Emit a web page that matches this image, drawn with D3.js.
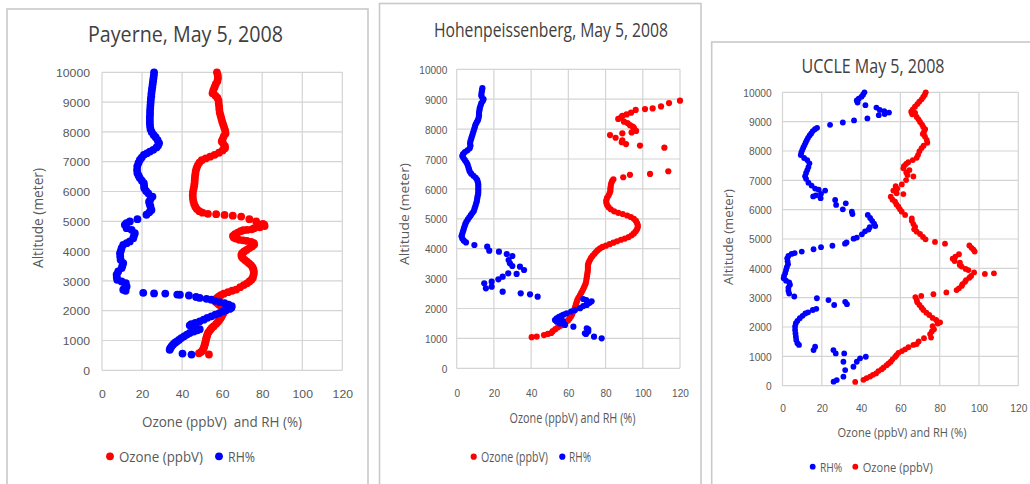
<!DOCTYPE html>
<html>
<head>
<meta charset="utf-8">
<script src="https://cdn.jsdelivr.net/npm/d3@7"></script>
<style>
  html, body { margin: 0; padding: 0; background: #fff; }
  svg { display: block; font-family: 'Open Sans', 'DejaVu Sans', sans-serif; }
  text { white-space: pre; }
</style>
</head>
<body>
<svg id="chart" width="1030" height="484"></svg>
<script>
// ---------- axis ticks ----------
const altitudeTicks = [0, 1000, 2000, 3000, 4000, 5000, 6000, 7000, 8000, 9000, 10000];
const valueTicks = [0, 20, 40, 60, 80, 100, 120];

// ---------- soundings: [value, altitude (m)] ----------
// Payerne, ozone (ppbV)
const payerneOzone = [
  [57.4,10000],[57.8,9900],[57.9,9800],[57.6,9700],[56.8,9600],[56.2,9500],[55.6,9400],[55.2,9300],[56.6,9220],[57.6,9150],
  [58.2,9050],[58.3,8950],[58.5,8850],[58.6,8750],[58.8,8650],[59.2,8550],[59.6,8450],[60.0,8350],[60.5,8250],[61.0,8150],
  [61.5,8050],[61.7,7950],[60.8,7850],[60.2,7750],[59.8,7680],[60.6,7600],[61.4,7520],[61.4,7450],[60.2,7380],[58.4,7300],
  [56.2,7230],[54.0,7170],[51.8,7110],[49.8,7050],[48.6,6970],[47.8,6880],[47.2,6780],[46.8,6680],[46.6,6580],[46.4,6480],
  [46.3,6380],[46.2,6280],[46.0,6180],[45.7,6080],[45.4,5980],[45.3,5880],[45.4,5780],[45.6,5680],[46.0,5580],[46.6,5490],
  [47.4,5410],[48.6,5340],[50.2,5290],[52.9,5250],[57.0,5240],[61.2,5215],[65.3,5190],[69.5,5160],[73.6,5070],[77.0,4995],
  [80.3,4915],[81.0,4890],[81.2,4840],[78.8,4800],[76.0,4770],[74.8,4730],[72.4,4710],[70.5,4700],[69.2,4670],[67.8,4620],
  [66.4,4570],[65.4,4510],[65.8,4460],[66.8,4420],[68.6,4380],[70.5,4360],[72.4,4340],[74.5,4310],[75.8,4270],[76.0,4220],
  [75.0,4160],[73.6,4100],[72.2,4040],[71.0,3990],[70.0,3930],[69.6,3870],[69.8,3810],[70.4,3760],[71.4,3700],[72.4,3650],
  [73.4,3590],[74.4,3530],[75.2,3460],[75.6,3390],[75.8,3320],[75.8,3250],[75.6,3180],[75.3,3100],[74.6,3040],[73.6,2980],
  [72.4,2920],[70.8,2860],[69.0,2790],[67.0,2710],[65.0,2670],[62.9,2620],[60.8,2570],[59.3,2520],[58.2,2470],[57.3,2420],
  [56.8,2360],[56.8,2300],[57.6,2250],[58.5,2200],[59.5,2150],[60.3,2090],[60.6,2030],[60.7,1970],[60.6,1920],[60.2,1860],
  [59.6,1800],[59.2,1750],[58.6,1690],[57.9,1630],[57.0,1560],[55.8,1480],[54.8,1420],[54.1,1360],[53.4,1300],[52.9,1250],
  [52.6,1190],[52.3,1130],[52.1,1080],[51.9,1020],[51.7,960],[51.5,900],[51.2,840],[51.0,780],[50.6,720],[50.1,660],
  [49.4,610],[48.4,570],[53.4,530]
];
// Payerne, relative humidity (%)
const payerneRH = [
  [26.0,10000],[25.9,9900],[25.7,9800],[25.5,9700],[25.3,9600],[25.1,9500],[24.9,9400],[24.7,9300],[24.6,9200],[24.4,9100],
  [24.3,9000],[24.2,8900],[24.1,8800],[24.0,8700],[24.0,8600],[23.9,8500],[23.9,8400],[23.9,8300],[24.0,8200],[24.2,8100],
  [24.8,8000],[25.8,7900],[26.8,7820],[27.8,7720],[28.5,7620],[28.0,7540],[27.2,7480],[25.6,7400],[23.9,7340],[22.4,7280],
  [20.9,7230],[19.8,7140],[18.9,7060],[18.2,6960],[17.6,6840],[17.5,6720],[17.7,6610],[18.3,6530],[18.9,6450],[19.9,6360],
  [20.9,6280],[21.0,6190],[21.1,6110],[22.0,6020],[23.1,5940],[25.2,5830],[24.2,5740],[23.5,5660],[23.8,5580],[24.2,5500],
  [24.7,5380],[23.6,5300],[22.2,5220],[17.7,5070],[13.9,4993],[12.2,4940],[11.4,4881],[12.3,4770],[14.8,4714],[16.4,4602],
  [16.0,4520],[15.6,4435],[13.9,4323],[12.3,4267],[10.6,4211],[9.8,4100],[9.4,4010],[9.0,3932],[9.1,3820],[9.3,3709],
  [10.6,3597],[10.2,3510],[9.8,3429],[8.1,3318],[7.3,3206],[7.4,3120],[7.6,3038],[9.8,2982],[11.9,2927],[12.3,2815],
  [11.2,2760],[10.6,2703],[11.8,2670],[20.6,2600],[26.0,2580],[31.6,2575],[37.6,2540],[38.9,2535],[43.4,2510],[47.0,2460],
  [48.8,2430],[52.2,2400],[54.6,2370],[56.3,2330],[58.8,2290],[61.2,2250],[63.2,2200],[64.8,2150],[64.6,2100],[63.7,2060],
  [61.8,2010],[60.4,1977],[58.6,1920],[56.6,1870],[54.6,1810],[52.6,1760],[50.8,1700],[48.8,1642],[46.6,1590],[44.6,1550],
  [43.8,1510],[45.2,1470],[46.8,1430],[48.8,1380],[47.6,1340],[45.8,1300],[43.8,1251],[42.4,1200],[41.0,1140],[39.6,1083],
  [38.4,1020],[37.2,960],[36.3,916],[35.4,860],[34.7,800],[34.1,740],[33.8,690],[40.2,560],[44.7,527]
];

// Hohenpeissenberg, ozone (ppbV)
const hohenOzone = [
  [120.0,8950],[114.1,8870],[109.8,8760],[105.3,8690],[101.2,8670],[96.2,8640],[93.7,8550],[91.3,8490],[89.0,8440],[86.8,8340],
  [88.4,8390],[89.9,8250],[91.8,8200],[93.1,8130],[94.6,8080],[95.3,8030],[96.4,7940],[94.0,7890],[89.0,7860],[82.4,7800],
  [85.4,7710],[89.0,7620],[88.7,7560],[91.0,7500],[98.5,7450],[111.6,7380],[113.7,6590],[103.9,6500],[93.1,6470],[89.5,6390],
  [84.2,6320],[83.5,6260],[83.0,6180],[82.8,6100],[82.6,6020],[82.6,5940],[82.2,5860],[81.6,5780],[80.8,5700],[80.4,5620],
  [80.4,5540],[80.8,5460],[81.6,5390],[82.8,5320],[84.6,5250],[86.8,5200],[89.2,5160],[91.6,5110],[93.6,5060],[95.2,5000],
  [96.3,4930],[96.9,4860],[97.3,4790],[97.3,4720],[96.9,4650],[96.2,4580],[95.2,4510],[94.0,4450],[92.4,4390],[90.4,4340],
  [88.3,4300],[86.2,4250],[84.2,4200],[82.2,4150],[80.2,4100],[78.4,4060],[77.0,4010],[75.8,3950],[74.8,3890],[74.0,3830],
  [73.0,3760],[72.2,3690],[71.6,3620],[71.0,3550],[70.6,3480],[70.5,3400],[70.5,3320],[70.4,3240],[70.2,3160],[70.0,3080],
  [69.8,3000],[69.6,2920],[69.3,2840],[68.8,2760],[68.2,2680],[67.6,2600],[66.9,2520],[66.2,2440],[65.4,2360],[64.8,2280],
  [64.4,2200],[64.0,2120],[63.6,2040],[63.2,1960],[62.6,1880],[62.0,1800],[61.4,1730],[60.6,1660],[59.8,1600],[58.6,1540],
  [57.3,1480],[55.8,1420],[54.4,1370],[53.0,1310],[51.6,1240],[50.8,1180],[49.0,1150],[46.9,1110],[43.0,1060],[40.3,1040]
];
// Hohenpeissenberg, relative humidity (%)
const hohenRH = [
  [13.8,9370],[13.6,9300],[13.4,9220],[13.2,9140],[13.4,9090],[14.4,9000],[14.0,8940],[13.2,8860],[12.8,8780],[12.4,8700],
  [12.2,8620],[12.0,8540],[12.0,8460],[11.8,8380],[11.4,8300],[10.8,8230],[10.2,8160],[9.8,8080],[9.4,8000],[9.0,7920],
  [8.6,7840],[8.2,7760],[7.8,7680],[7.4,7600],[7.2,7520],[7.4,7440],[7.0,7360],[5.8,7290],[4.4,7230],[3.4,7160],
  [3.0,7100],[3.6,7030],[4.4,6960],[5.2,6890],[5.8,6820],[6.2,6740],[6.6,6660],[7.0,6580],[7.8,6510],[9.0,6440],
  [10.2,6370],[11.0,6300],[11.4,6220],[11.6,6140],[11.6,6060],[11.6,5980],[11.6,5900],[11.5,5820],[11.2,5740],[11.0,5660],
  [10.8,5580],[10.4,5500],[10.0,5420],[9.6,5340],[9.2,5260],[8.4,5190],[7.6,5120],[6.8,5050],[6.0,4980],[5.2,4900],
  [4.6,4820],[4.2,4740],[3.8,4660],[3.4,4580],[3.0,4500],[2.6,4420],[3.0,4340],[3.8,4270],[5.0,4210],[9.5,4124],
  [16.4,4068],[17.5,3933],[22.7,3900],[26.9,3823],[29.9,3756],[27.9,3622],[28.6,3512],[29.9,3422],[34.0,3400],[36.2,3288],
  [32.2,3155],[27.7,3177],[24.7,3066],[22.4,2977],[18.8,2896],[14.8,2843],[15.7,2676],[18.8,2730],[24.7,2562],[34.4,2508],
  [39.4,2475],[43.5,2395],
  [68.0,2318],[69.6,2280],[72.5,2240],[71.4,2190],[69.9,2120],[68.0,2080],[66.3,2010],[63.6,1950],[61.5,1900],[59.1,1840],
  [57.5,1800],[56.4,1760],[55.0,1720],[53.7,1670],[52.8,1615],[53.8,1560],[55.5,1500],[56.4,1620],[57.2,1560],[58.2,1450],
  [62.7,1391],[69.9,1340],[70.7,1300],[70.7,1230],[68.9,1170],[69.5,1150],[73.8,1057],[77.9,1003]
];

// Uccle, relative humidity (%)
const uccleRH = [
  [41.7,10000],[41.0,9920],[40.2,9850],[38.8,9780],[37.8,9720],[38.2,9650],[42.2,9560],[47.8,9480],[49.5,9400],[51.8,9360],
  [54.2,9310],[49.0,9220],[52.0,9260],[43.2,9110],[36.4,9040],[30.7,8970],[24.2,8890],[17.6,8790],[16.5,8740],[15.4,8680],
  [14.6,8600],[13.8,8530],[13.0,8450],[12.4,8370],[11.8,8290],[11.2,8200],[10.6,8120],[10.1,8040],[9.6,7950],[9.3,7860],
  [11.0,7760],[12.6,7690],[13.7,7580],[13.2,7450],[12.6,7350],[12.0,7250],[11.5,7140],[12.0,7050],[13.2,6920],[14.8,6820],
  [16.6,6720],[18.4,6680],[21.7,6650],[19.6,6540],[17.0,6490],[15.6,6450],[19.4,6390],[26.8,6330],[27.3,6160],[30.7,6010],
  [32.2,6216],[35.3,5930],[35.6,5850],[43.4,5820],[44.6,5720],[45.6,5620],[46.6,5520],[47.2,5440],[44.4,5400],[43.8,5320],
  [42.0,5260],[40.4,5160],[37.8,5050],[36.2,5010],[32.6,4880],[31.8,4840],[25.4,4770],[19.6,4720],[15.8,4650],[9.8,4570],
  [6.2,4520],[4.6,4490],[3.0,4420],[2.4,4340],[2.6,4240],[2.8,4140],[2.2,4040],[1.8,3940],[1.4,3840],[0.8,3740],
  [0.6,3660],[1.8,3580],[3.4,3520],[3.8,3440],[3.0,3340],[3.0,3240],[3.4,3140],[6.0,3040],[17.5,2980],[23.4,2920],
  [26.3,2750],[31.9,2860],[32.8,2780],[17.2,2620],[15.4,2580],[13.0,2500],[11.6,2460],[10.2,2380],[8.8,2300],[7.6,2210],
  [6.8,2130],[6.4,2020],[6.4,1900],[6.6,1780],[6.8,1670],[7.0,1560],[7.6,1450],[8.4,1390],[16.6,1327],[15.8,1214],
  [25.9,1214],[27.1,1100],[31.4,1100],[31.0,816],[37.8,816],[39.5,932],[42.4,987],[36.1,646],[31.9,534],[31.0,306],
  [27.6,193],[26.0,136]
];
// Uccle, ozone (ppbV)
const uccleOzone = [
  [72.9,10000],[72.4,9920],[71.6,9840],[70.8,9760],[69.6,9680],[68.6,9600],[67.4,9510],[66.3,9420],[65.5,9340],[67.5,9300],
  [66.0,9250],[68.3,9160],[69.2,9080],[70.0,8990],[71.0,8900],[71.6,8820],[72.6,8740],[72.0,8650],[71.4,8580],[72.5,8490],
  [73.4,8380],[73.7,8280],[71.8,8180],[70.8,8100],[69.7,7990],[69.0,7870],[68.3,7770],[66.3,7690],[64.0,7620],[62.9,7560],
  [61.8,7480],[61.5,7410],[64.6,7350],[63.0,7270],[63.6,7180],[66.6,7130],[62.9,7010],[60.7,6860],[57.6,6800],[58.4,6720],
  [56.4,6650],[58.1,6560],[61.5,6530],[55.1,6440],[56.0,6340],[57.3,6270],[58.0,6180],[59.0,6100],[59.8,6010],[60.7,5930],
  [62.4,5820],[65.8,5700],[65.8,5620],[66.6,5510],[67.5,5410],[67.0,5330],[68.3,5250],[70.0,5170],[71.5,5070],[72.8,4990],
  [77.6,4900],[82.7,4840],[95.1,4780],[96.2,4700],[97.2,4640],[97.8,4570],[89.8,4480],[88.0,4400],[86.6,4330],[87.6,4250],
  [90.3,4190],[90.2,4110],[91.2,4060],[93.2,3980],[94.6,3940],[97.5,3860],[103.0,3810],[107.6,3830],[96.0,3740],[95.1,3680],
  [93.4,3600],[92.9,3540],[91.6,3460],[91.2,3400],[89.8,3320],[88.6,3260],[83.4,3180],[76.8,3120],[70.6,3060],[67.6,3020],
  [68.3,2920],[68.6,2840],[69.7,2750],[70.8,2660],[71.7,2580],[73.2,2490],[74.7,2410],[76.4,2310],[78.2,2240],[80.2,2160],
  [79.0,2120],[76.4,2030],[77.1,1920],[76.0,1850],[75.1,1760],[75.6,1640],[72.0,1620],[69.3,1510],[68.3,1420],[66.6,1390],
  [64.1,1310],[62.4,1240],[60.8,1180],[59.0,1120],[58.0,1040],[57.3,980],[56.0,900],[55.1,820],[54.0,760],[53.0,700],
  [51.5,620],[50.5,560],[48.8,500],[47.6,420],[46.0,370],[44.6,310],[42.8,260],[41.2,200],[37.0,130]
];

const OZONE_LABEL = 'Ozone (ppbV)';
const RH_LABEL = 'RH%';
const OZONE_COLOR = '#ff0000';
const RH_COLOR = '#0000ff';

// ---------- panel layout ----------
const panels = [
  {
    title: 'Payerne, May 5, 2008',
    xTitle: 'Ozone (ppbV)  and RH (%)',
    frame: { x: 7, y: 9, w: 361, h: 500 },
    plot: { left: 102, right: 342.3, top: 72.3, bottom: 370.3 },
    r: 3.9,
    tickFs: 11.8, digitW: 6.8, yLabelRight: 90, xLabelBase: 398.3,
    titleCfg: { cx: 185.5, base: 42.3, fs: 21, w: 195 },
    xTitleCfg: { cx: 222, base: 426.7, fs: 14.5, w: 160 },
    yTitleCfg: { bx: 43.3, cy: 218, fs: 14, w: 100 },
    legend: { base: 461.7, dotY: 456.3, fs: 14.5, items: [
      { label: OZONE_LABEL, color: OZONE_COLOR, dotX: 110, textX: 119, w: 84 },
      { label: RH_LABEL, color: RH_COLOR, dotX: 219, textX: 228, w: 27 }
    ] },
    series: [ { data: payerneOzone, color: OZONE_COLOR }, { data: payerneRH, color: RH_COLOR } ]
  },
  {
    title: 'Hohenpeissenberg, May 5, 2008',
    xTitle: 'Ozone (ppbV) and RH (%)',
    frame: { x: 379.5, y: 3.5, w: 321.5, h: 500 },
    plot: { left: 456.7, right: 680, top: 69.3, bottom: 368.3 },
    r: 3.1,
    tickFs: 11.6, digitW: 5.6, yLabelRight: 447.3, xLabelBase: 397.3,
    titleCfg: { cx: 551, base: 37.3, fs: 20.5, w: 234 },
    xTitleCfg: { cx: 572.5, base: 423.3, fs: 14, w: 126 },
    yTitleCfg: { bx: 409.3, cy: 214, fs: 12.5, w: 102 },
    legend: { base: 461.7, dotY: 456.7, fs: 14, items: [
      { label: OZONE_LABEL, color: OZONE_COLOR, dotX: 473.7, textX: 481, w: 67 },
      { label: RH_LABEL, color: RH_COLOR, dotX: 562.3, textX: 569, w: 22 }
    ] },
    series: [ { data: hohenOzone, color: OZONE_COLOR }, { data: hohenRH, color: RH_COLOR } ]
  },
  {
    title: 'UCCLE May 5, 2008',
    xTitle: 'Ozone (ppbV) and RH (%)',
    frame: { x: 711.7, y: 42, w: 340, h: 500 },
    plot: { left: 782.5, right: 1018.3, top: 92.3, bottom: 385.7 },
    r: 2.9,
    tickFs: 10.8, digitW: 5.67, yLabelRight: 771.7, xLabelBase: 412,
    titleCfg: { cx: 873, base: 73.3, fs: 19.6, w: 143 },
    xTitleCfg: { cx: 902, base: 437.3, fs: 13.5, w: 129 },
    yTitleCfg: { bx: 733.3, cy: 237, fs: 12, w: 96 },
    legend: { base: 471.7, dotY: 466.7, fs: 12, items: [
      { label: RH_LABEL, color: RH_COLOR, dotX: 812.7, textX: 820, w: 22.3 },
      { label: OZONE_LABEL, color: OZONE_COLOR, dotX: 855.3, textX: 862.7, w: 70 }
    ] },
    series: [ { data: uccleRH, color: RH_COLOR }, { data: uccleOzone, color: OZONE_COLOR } ]
  }
];

const svg = d3.select('#chart');
svg.append('rect').attr('width', 1030).attr('height', 484).attr('fill', '#fff');

const plainNumber = d3.format('d');

function drawPanel(p) {
  const g = svg.append('g');
  const { left, right, top, bottom } = p.plot;

  // outer chart frame
  g.append('rect')
    .attr('x', p.frame.x).attr('y', p.frame.y)
    .attr('width', p.frame.w).attr('height', p.frame.h)
    .attr('fill', '#fff').attr('stroke', '#c9c9c9').attr('stroke-width', 1.6);

  const x = d3.scaleLinear().domain([0, 120]).range([left, right]);
  const y = d3.scaleLinear().domain([0, 10000]).range([bottom, top]);

  // gridlines
  g.append('g').selectAll('line').data(valueTicks).join('line')
    .attr('x1', d => x(d)).attr('x2', d => x(d))
    .attr('y1', top).attr('y2', bottom)
    .attr('stroke', '#d4d4d4').attr('stroke-width', 1.2);
  g.append('g').selectAll('line').data(altitudeTicks).join('line')
    .attr('x1', left).attr('x2', right)
    .attr('y1', d => y(d)).attr('y2', d => y(d))
    .attr('stroke', '#d4d4d4').attr('stroke-width', 1.2);

  // y axis labels
  const yAxis = g.append('g')
    .attr('transform', `translate(${left},0)`)
    .call(d3.axisLeft(y).tickValues(altitudeTicks).tickFormat(plainNumber)
      .tickSize(0).tickPadding(left - p.yLabelRight));
  yAxis.select('.domain').remove();
  yAxis.selectAll('text')
    .attr('font-family', null).attr('font-size', p.tickFs).attr('fill', '#595959')
    .attr('dy', '0.36em')
    .attr('textLength', d => plainNumber(d).length * p.digitW)
    .attr('lengthAdjust', 'spacingAndGlyphs');

  // x axis labels
  const xAxis = g.append('g')
    .attr('transform', `translate(0,${bottom})`)
    .call(d3.axisBottom(x).tickValues(valueTicks).tickFormat(plainNumber).tickSize(0));
  xAxis.select('.domain').remove();
  xAxis.selectAll('text')
    .attr('font-family', null).attr('font-size', p.tickFs).attr('fill', '#595959')
    .attr('dy', null).attr('y', p.xLabelBase - bottom)
    .attr('textLength', d => plainNumber(d).length * p.digitW)
    .attr('lengthAdjust', 'spacingAndGlyphs');

  // title
  g.append('text')
    .attr('x', p.titleCfg.cx).attr('y', p.titleCfg.base)
    .attr('text-anchor', 'middle').attr('font-size', p.titleCfg.fs).attr('fill', '#404040')
    .attr('textLength', p.titleCfg.w).attr('lengthAdjust', 'spacingAndGlyphs')
    .text(p.title);

  // axis titles
  g.append('text')
    .attr('x', p.xTitleCfg.cx).attr('y', p.xTitleCfg.base)
    .attr('text-anchor', 'middle').attr('font-size', p.xTitleCfg.fs).attr('fill', '#595959')
    .attr('textLength', p.xTitleCfg.w).attr('lengthAdjust', 'spacingAndGlyphs')
    .text(p.xTitle);
  g.append('text')
    .attr('transform', `translate(${p.yTitleCfg.bx},${p.yTitleCfg.cy}) rotate(-90)`)
    .attr('text-anchor', 'middle').attr('font-size', p.yTitleCfg.fs).attr('fill', '#595959')
    .attr('textLength', p.yTitleCfg.w).attr('lengthAdjust', 'spacingAndGlyphs')
    .text('Altitude (meter)');

  // data points
  p.series.forEach(s => {
    g.append('g').selectAll('circle').data(s.data).join('circle')
      .attr('cx', d => x(d[0])).attr('cy', d => y(d[1]))
      .attr('r', p.r).attr('fill', s.color);
  });

  // legend
  const lg = g.append('g');
  p.legend.items.forEach(it => {
    lg.append('circle').attr('cx', it.dotX).attr('cy', p.legend.dotY).attr('r', p.r).attr('fill', it.color);
    lg.append('text').attr('x', it.textX).attr('y', p.legend.base)
      .attr('font-size', p.legend.fs).attr('fill', '#595959')
      .attr('textLength', it.w).attr('lengthAdjust', 'spacingAndGlyphs')
      .text(it.label);
  });
}

panels.forEach(drawPanel);
</script>
</body>
</html>
